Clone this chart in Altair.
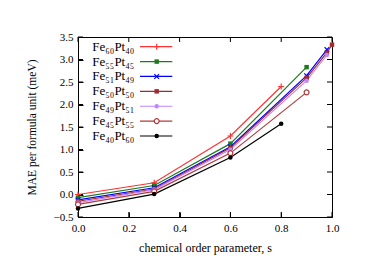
import altair as alt
import pandas as pd

# ---------------- data ----------------
series = ["Fe₆₀Pt₄₀", "Fe₅₅Pt₄₅", "Fe₅₁Pt₄₉", "Fe₅₀Pt₅₀", "Fe₄₉Pt₅₁", "Fe₄₅Pt₅₅", "Fe₄₀Pt₆₀"]
colors = ["#ff3333", "#1f7a1f", "#0000ff", "#a52a2a", "#bf86ff", "#b03a3a", "#000000"]

s_6040 = [0.0, 0.3, 0.6, 0.8]
mae_6040 = [0.0, 0.26, 1.30, 2.40]
s_5545 = [0.0, 0.3, 0.6, 0.9]
mae_5545 = [-0.07, 0.20, 1.13, 2.83]
s_5149 = [0.0, 0.3, 0.6, 0.9, 0.98]
mae_5149 = [-0.12, 0.15, 1.06, 2.64, 3.22]
s_5050 = [0.0, 0.3, 0.6, 0.9, 0.98, 1.0]
mae_5050 = [-0.15, 0.12, 1.04, 2.59, 3.15, 3.33]
s_4951 = [0.0, 0.3, 0.6, 0.9, 0.98]
mae_4951 = [-0.18, 0.11, 1.00, 2.53, 3.10]
s_4555 = [0.0, 0.3, 0.6, 0.9]
mae_4555 = [-0.22, 0.07, 0.92, 2.27]
s_4060 = [0.0, 0.3, 0.6, 0.8]
mae_4060 = [-0.31, 0.01, 0.82, 1.57]

x_ticks = [0.0, 0.2, 0.4, 0.6, 0.8, 1.0]
y_ticks = [-0.5, 0.0, 0.5, 1.0, 1.5, 2.0, 2.5, 3.0, 3.5]

all_s = [s_6040, s_5545, s_5149, s_5050, s_4951, s_4555, s_4060]
all_m = [mae_6040, mae_5545, mae_5149, mae_5050, mae_4951, mae_4555, mae_4060]

rows = []
for name, ss, mm in zip(series, all_s, all_m):
    for a, b in zip(ss, mm):
        rows.append({"series": name, "s": a, "mae": b})
df = pd.DataFrame(rows)
legend_df = pd.DataFrame({"series": series})
xt_df = pd.DataFrame({"s": x_ticks})
yt_df = pd.DataFrame({"mae": y_ticks})

# ---------------- styling ----------------
FONT = "Liberation Serif"
PLUS = "M-1,0L1,0M0,-1L0,1"
CROSS = "M-1,-1L1,1M-1,1L1,-1"
# (shape, size, filled, fill)
markers = [
    (PLUS, 36, False, None),
    ("square", 20, True, None),
    (CROSS, 22, False, None),
    ("square", 20, True, None),
    ("circle", 20, True, None),
    ("circle", 24, False, "#ffffff"),
    ("circle", 20, True, None),
]

W, H = 254, 180
cscale = alt.Scale(domain=series, range=colors)
xscale = alt.Scale(domain=[0, 1], nice=False, zero=False)
yscale = alt.Scale(domain=[-0.5, 3.5], nice=False, zero=False)
# legend rows (pixel rows inside the plot area, top-left)
lscale = alt.Scale(type="point", domain=series, range=[9.7, 99.0], padding=0)

common_axis = dict(
    domain=False, grid=False, tickSize=5, offset=-5, tickColor="black", tickWidth=1,
    labelFlush=False, labelFont=FONT, labelFontSize=11, labelColor="black",
    titleFont=FONT, titleFontWeight="normal", titleColor="black",
)

x_bottom = alt.X("s:Q", scale=xscale, axis=alt.Axis(
    orient="bottom", values=x_ticks, format=".1f", labelPadding=5,
    title="chemical order parameter, s", titleFontSize=12, titlePadding=9, **common_axis))
y_left = alt.Y("mae:Q", scale=yscale, axis=alt.Axis(
    orient="left", values=y_ticks, format=".1f", labelPadding=5,
    title="MAE per formula unit (meV)", titleFontSize=11.5, titlePadding=16, **common_axis))

x_none = alt.X("s:Q", scale=xscale, axis=None)
y_none = alt.Y("mae:Q", scale=yscale, axis=None)
y_leg = alt.Y("series:N", scale=lscale, axis=None)

lines = alt.Chart(df).mark_line(strokeWidth=1.2).encode(
    x=x_bottom, y=y_left,
    color=alt.Color("series:N", scale=cscale, legend=None),
    detail="series:N",
)

# inward tick marks on all four sides, placed through the data scales
tick_kw = dict(size=5, thickness=1, color="black", opacity=1)
ticks_bottom = alt.Chart(xt_df).mark_tick(**tick_kw).encode(x=x_none, y=alt.value(H - 2.5))
ticks_top = alt.Chart(xt_df).mark_tick(**tick_kw).encode(x=x_none, y=alt.value(2.5))
ticks_left = alt.Chart(yt_df).mark_tick(**tick_kw).encode(y=y_none, x=alt.value(2.5))
ticks_right = alt.Chart(yt_df).mark_tick(**tick_kw).encode(y=y_none, x=alt.value(W - 2.5))

point_layers = []
legend_points = []
for name, (shape, size, filled, fill) in zip(series, markers):
    kw = dict(shape=shape, size=size, filled=filled, opacity=1, strokeWidth=1.2)
    if fill is not None:
        kw["fill"] = fill
    point_layers.append(
        alt.Chart(df).transform_filter(alt.datum.series == name).mark_point(**kw).encode(
            x=x_none, y=y_none,
            color=alt.Color("series:N", scale=cscale, legend=None),
        )
    )
    legend_points.append(
        alt.Chart(legend_df).transform_filter(alt.datum.series == name).mark_point(**kw).encode(
            x=alt.value(78.7), y=y_leg,
            color=alt.Color("series:N", scale=cscale, legend=None),
        )
    )

legend_text = alt.Chart(legend_df).mark_text(
    align="right", baseline="middle", font=FONT, fontSize=13, color="black"
).encode(x=alt.value(56.3), y=y_leg, text="series:N")

legend_rules = alt.Chart(legend_df).mark_rule(strokeWidth=1.2).encode(
    x=alt.value(62), x2=alt.value(94.3), y=y_leg,
    color=alt.Color("series:N", scale=cscale, legend=None),
)

chart = alt.layer(
    lines, ticks_bottom, ticks_top, ticks_left, ticks_right,
    *point_layers, legend_text, legend_rules, *legend_points
).resolve_scale(y="independent").resolve_axis(
    x="independent", y="independent"
).properties(
    width=W, height=H,
    background="white",
    autosize=alt.AutoSizeParams(type="none"),
    padding={"left": 70, "top": 29, "right": 46, "bottom": 48},
).configure_view(stroke="black", strokeWidth=1)

chart.save("out.html", embed_options={"renderer": "svg", "actions": False})
